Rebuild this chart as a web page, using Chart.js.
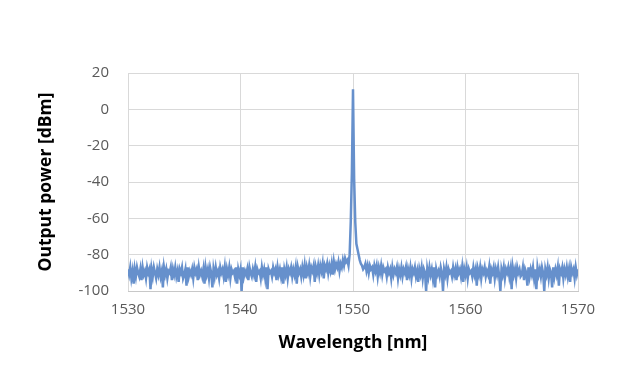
<!DOCTYPE html>
<html><head><meta charset="utf-8">
<script src="https://cdn.jsdelivr.net/npm/chart.js@4/dist/chart.umd.min.js"></script>
<style>html,body{margin:0;padding:0;background:#fff}#wrap{width:640px;height:380px}</style>
</head><body><div id="wrap"><canvas id="c" width="640" height="380"></canvas></div>
<script>
// Wavelength sampling: left noise 1530.0..1549.5, right noise 1551.0..1570.0, step 0.1 nm
const leftStartNm = 1530.0, rightStartNm = 1551.0, stepNm = 0.1;
const leftNoiseDbm = [
 -88,-91,-87,-93,-89,-96,-88,-92,-87,-90,
 -92,-88,-94,-87,-91,-89,-93,-87,-90,-88,
 -99,-88,-92,-87,-90,-93,-88,-91,-87,-92,
 -89,-98,-87,-91,-88,-93,-89,-90,-87,-94,
 -88,-91,-87,-92,-89,-95,-88,-90,-87,-93,
 -91,-88,-97,-87,-92,-89,-91,-88,-93,-87,
 -90,-88,-94,-87,-91,-89,-92,-88,-96,-87,
 -91,-88,-93,-87,-90,-98,-88,-92,-87,-91,
 -89,-93,-87,-90,-88,-92,-87,-95,-88,-91,
 -87,-93,-88,-90,-89,-92,-87,-96,-88,-91,
 -88,-100,-87,-92,-89,-91,-88,-94,-87,-90,
 -92,-88,-91,-87,-95,-88,-90,-89,-93,-87,
 -91,-88,-93,-87,-99,-88,-90,-89,-92,-87,
 -90,-88,-94,-87,-91,-88,-92,-87,-96,-88,
 -91,-87,-93,-88,-90,-87,-92,-88,-91,-87,
 -96,-87,-90,-88,-92,-87,-91,-86,-93,-87,
 -90,-86,-92,-87,-89,-86,-95,-87,-90,-86,
 -91,-86,-89,-85,-93,-86,-88,-85,-90,-86,
 -89,-85,-91,-84,-88,-85,-87,-84,-89,-85,
 -87,-83,-86,-82,-84,-83
];
const peakWl  = [1549.6,1549.7,1549.8,1549.9,1550.0,1550.1,1550.2,1550.3,1550.4,1550.5,1550.6,1550.7,1550.8,1550.9];
const peakDbm = [-86,-80,-62,-35,11,-38,-62,-74,-77,-80,-83,-85,-86,-88];
const rightNoiseDbm = [
 -87,-85,-89,-86,-90,-86,-88,-87,-91,-86,
 -89,-86,-92,-87,-90,-86,-91,-87,-89,-88,
 -92,-87,-90,-88,-93,-87,-91,-88,-90,-87,
 -93,-88,-91,-87,-92,-88,-90,-87,-94,-88,
 -91,-87,-93,-88,-90,-87,-92,-89,-95,-88,
 -91,-87,-93,-88,-90,-100,-88,-92,-87,-91,
 -88,-93,-87,-98,-88,-91,-89,-92,-87,-90,
 -100,-88,-91,-87,-93,-88,-90,-89,-92,-87,
 -91,-88,-94,-87,-90,-88,-92,-87,-95,-88,
 -91,-87,-93,-88,-90,-89,-92,-87,-91,-88,
 -97,-88,-91,-87,-93,-88,-90,-87,-92,-89,
 -91,-87,-96,-88,-90,-87,-93,-88,-91,-87,
 -92,-100,-88,-91,-87,-93,-88,-90,-87,-92,
 -88,-99,-87,-91,-88,-93,-87,-90,-88,-92,
 -91,-87,-94,-88,-90,-97,-87,-92,-88,-91,
 -87,-93,-88,-99,-87,-91,-88,-92,-87,-90,
 -100,-88,-91,-87,-93,-88,-90,-98,-87,-92,
 -88,-91,-87,-97,-88,-90,-87,-93,-88,-91,
 -87,-92,-88,-95,-87,-90,-88,-93,-87,-91,
 -88
];
const xTicks = [1530,1540,1550,1560,1570];
const yTicks = [-100,-80,-60,-40,-20,0,20];

const pts = [];
leftNoiseDbm.forEach((v,i)=>pts.push({x:+(leftStartNm+i*stepNm).toFixed(1), y:v}));
peakWl.forEach((w,i)=>pts.push({x:w, y:peakDbm[i]}));
rightNoiseDbm.forEach((v,i)=>pts.push({x:+(rightStartNm+i*stepNm).toFixed(1), y:v}));

const tickFont = {family:"'Open Sans', 'Noto Sans', sans-serif", size:15};
const titleFont = {family:"'Open Sans', 'Noto Sans', sans-serif", size:17.5, weight:'bold'};

new Chart(document.getElementById('c'), {
  type:'line',
  data:{datasets:[{data:pts, borderColor:'#6690cc', borderWidth:2.5, pointRadius:0, tension:0, fill:false}]},
  options:{
    responsive:false, animation:false, devicePixelRatio:1,
    layout:{padding:{top:73,right:62,left:0,bottom:0}},
    plugins:{legend:{display:false}, tooltip:{enabled:false}},
    scales:{
      x:{type:'linear', min:1530, max:1570,
         afterBuildTicks:s=>{s.ticks=xTicks.map(v=>({value:v}));},
         afterFit:s=>{s.height=89;},
         grid:{color:'#d9d9d9', lineWidth:1, drawTicks:false},
         border:{display:true, color:'#c8c8c8'},
         ticks:{font:tickFont, color:'#595959', padding:10, maxRotation:0, callback:v=>String(v)},
         title:{display:true, text:'Wavelength [nm]', font:titleFont, color:'#000', padding:{top:4,bottom:26}}},
      y:{min:-100, max:20,
         afterBuildTicks:s=>{s.ticks=yTicks.map(v=>({value:v}));},
         afterFit:s=>{s.width=128;},
         grid:{color:'#d9d9d9', lineWidth:1, drawTicks:false},
         border:{display:false},
         ticks:{font:tickFont, color:'#595959', padding:19, callback:v=>String(v)},
         title:{display:true, text:'Output power [dBm]', font:titleFont, color:'#000', padding:{top:36,bottom:36}}}
    }
  }
});
</script></body></html>
